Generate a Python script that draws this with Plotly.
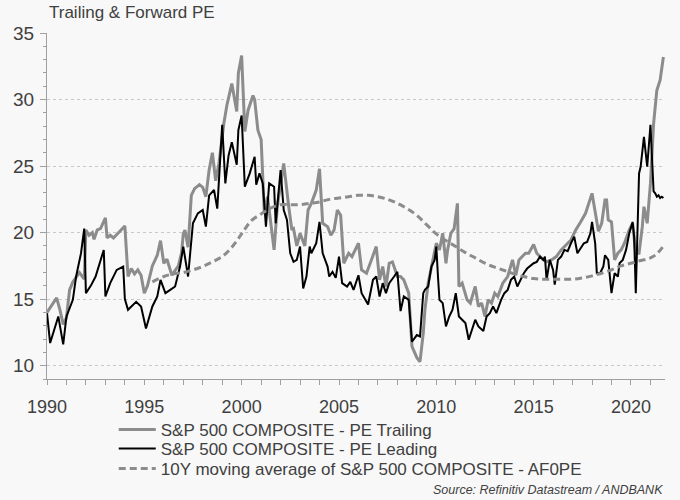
import plotly.graph_objects as go

# ---- data ----
trailing_dates = [
    "1990-01","1990-04","1990-07","1990-09","1990-11","1991-01","1991-03","1991-05","1991-07","1991-09","1991-12",
    "1992-01","1992-03","1992-05","1992-06","1992-08","1992-10","1992-12","1993-01","1993-02","1993-04","1993-06",
    "1993-09","1993-11","1994-01","1994-03","1994-05","1994-07","1994-09","1994-11","1995-01","1995-03","1995-06",
    "1995-09","1995-11","1996-01","1996-03","1996-06","1996-08","1996-10","1996-12","1997-01","1997-02","1997-04",
    "1997-06","1997-08","1997-11","1998-01","1998-03","1998-05","1998-07","1998-09","1998-11","1999-02","1999-04",
    "1999-07","1999-10","1999-11","2000-01","2000-03","2000-05","2000-08","2000-09","2000-11","2001-01","2001-03",
    "2001-05","2001-09","2001-11","2002-03","2002-06","2002-08","2002-09","2002-11","2003-01","2003-04","2003-06",
    "2003-08","2003-11","2004-01","2004-03","2004-06","2004-08","2004-10","2004-12","2005-02","2005-04","2005-07",
    "2005-09","2006-01","2006-03","2006-06","2006-09","2006-12","2007-02","2007-04","2007-06","2007-08","2007-10",
    "2008-01","2008-03","2008-05","2008-08","2008-10","2009-01","2009-03","2009-05","2009-06","2009-08","2009-11",
    "2010-01","2010-03","2010-05","2010-07","2010-08","2010-10","2010-12","2011-02","2011-03","2011-05","2011-08",
    "2011-10","2012-01","2012-03","2012-05","2012-07","2012-09","2012-11","2013-01","2013-03","2013-06","2013-09",
    "2013-12","2014-02","2014-04","2014-06","2014-08","2014-10","2015-01","2015-03","2015-05","2015-07","2015-09",
    "2015-12","2016-03","2016-06","2016-12","2017-03","2017-06","2017-09","2018-01","2018-03","2018-05","2018-07",
    "2018-09","2018-10","2018-11","2019-01","2019-03","2019-05","2019-07","2019-09","2019-12","2020-02","2020-04",
    "2020-06","2020-08","2020-09","2020-11","2021-01","2021-03","2021-05","2021-07","2021-09",
]
trailing_pe = [
    14.0,14.6,15.1,14.2,13.1,13.6,15.7,16.3,16.7,17.0,16.5,
    20.2,19.8,20.0,19.5,20.2,20.3,20.8,21.1,19.6,19.8,19.6,
    20.0,20.2,20.5,16.7,17.3,16.9,17.2,16.8,15.45,16.0,17.5,
    18.3,19.4,17.7,18.0,16.8,17.2,17.5,18.5,19.9,20.2,18.9,
    22.8,23.3,23.6,23.4,22.7,24.7,26.0,23.9,25.2,28.2,29.6,
    31.2,29.1,32.0,33.3,27.6,29.2,30.3,30.0,27.7,27.0,21.5,
    22.7,18.7,22.0,25.2,22.0,20.2,20.3,19.0,19.95,19.0,21.7,
    22.2,23.2,24.8,20.7,20.45,19.8,20.2,21.7,21.3,17.7,18.45,
    18.2,19.2,17.2,16.95,17.95,18.95,16.45,17.45,15.95,17.7,17.8,
    16.7,16.7,16.45,15.45,11.45,10.6,10.3,12.45,14.2,16.2,17.95,
    19.2,18.7,19.95,17.7,18.7,19.95,20.3,22.2,15.95,16.2,14.95,
    14.7,15.95,14.45,14.7,13.7,14.95,14.7,15.45,15.2,16.2,16.7,
    17.95,16.8,17.95,18.2,18.45,18.45,19.1,18.45,18.2,17.95,17.8,
    17.95,18.2,18.7,19.45,20.2,20.8,21.45,22.95,21.45,20.1,20.7,
    22.45,22.45,20.95,20.8,17.95,18.45,18.7,19.2,20.2,20.7,18.45,
    18.45,20.45,21.95,20.7,23.7,28.2,30.7,31.45,33.2,
]

leading_dates = [
    "1990-01","1990-03","1990-08","1990-11","1991-01","1991-05","1991-07","1991-10","1991-12","1992-01","1992-04",
    "1992-07","1992-12","1993-01","1993-04","1993-08","1993-12","1994-01","1994-03","1994-08","1994-11","1995-02",
    "1995-06","1995-09","1995-11","1996-02","1996-05","1996-08","1996-11","1997-01","1997-04","1997-07","1997-10",
    "1998-01","1998-03","1998-05","1998-08","1998-10","1998-12","1999-01","1999-03","1999-05","1999-07","1999-10",
    "1999-11","2000-01","2000-03","2000-06","2000-09","2000-10","2000-12","2001-02","2001-04","2001-06","2001-09",
    "2001-10","2002-01","2002-03","2002-05","2002-07","2002-09","2002-11","2003-01","2003-03","2003-05","2003-07",
    "2003-08","2003-11","2004-01","2004-03","2004-06","2004-07","2004-09","2004-11","2005-01","2005-03","2005-06",
    "2005-08","2005-10","2006-01","2006-03","2006-07","2006-10","2006-12","2007-02","2007-04","2007-06","2007-08",
    "2007-11","2008-01","2008-03","2008-05","2008-08","2008-10","2009-01","2009-03","2009-05","2009-06","2009-08",
    "2009-10","2009-12","2010-01","2010-02","2010-03","2010-05","2010-07","2010-09","2010-11","2011-01","2011-03",
    "2011-05","2011-07","2011-09","2011-11","2012-01","2012-03","2012-06","2012-08","2012-10","2012-12","2013-02",
    "2013-05","2013-07","2013-09","2013-11","2014-01","2014-03","2014-05","2014-07","2014-09","2015-01","2015-03",
    "2015-05","2015-07","2015-08","2015-09","2015-11","2016-01","2016-02","2016-04","2016-06","2016-08","2016-10",
    "2016-12","2017-02","2017-04","2017-06","2017-08","2017-10","2017-12","2018-01","2018-03","2018-04","2018-06",
    "2018-08","2018-09","2018-11","2018-12","2019-01","2019-03","2019-05","2019-06","2019-08","2019-10","2019-12",
    "2020-02","2020-03","2020-04","2020-06","2020-07","2020-09","2020-11","2020-12","2021-01","2021-03","2021-04",
    "2021-05","2021-06","2021-07","2021-08","2021-09",
]
leading_pe = [
    13.95,11.7,13.7,11.6,13.7,14.95,16.7,18.45,20.3,15.45,16.0,
    16.7,18.7,15.2,16.2,17.2,17.45,15.0,14.2,14.8,14.45,12.8,
    14.45,15.2,16.45,15.45,15.7,15.95,17.45,18.95,16.7,20.7,21.45,
    21.7,20.45,22.8,23.2,21.8,25.95,28.1,23.7,25.8,26.8,25.1,
    27.7,28.8,23.45,24.45,25.7,23.6,24.45,23.7,20.45,23.7,23.45,
    20.7,24.7,21.7,20.95,18.45,17.8,17.95,18.95,15.8,16.7,18.95,
    18.45,19.2,20.8,18.45,17.45,16.7,17.05,16.6,18.2,16.2,15.95,
    16.3,15.7,16.8,15.45,14.6,16.45,16.7,15.2,16.2,15.45,16.2,
    16.7,17.05,14.1,15.2,14.95,11.8,12.3,12.2,15.45,15.7,15.95,
    17.45,17.95,18.95,16.7,14.95,14.7,12.95,13.7,14.2,15.45,13.7,
    13.45,13.2,11.95,12.7,13.45,12.95,12.6,13.7,13.95,14.45,13.95,
    14.95,15.45,15.7,16.45,16.7,15.95,16.45,16.95,17.3,17.7,17.8,
    18.2,17.95,18.2,16.45,17.95,17.2,16.1,17.95,18.2,18.7,18.6,
    19.2,19.7,18.45,18.8,19.2,19.3,19.95,20.8,19.2,16.95,16.95,
    17.45,18.3,17.95,16.95,15.45,16.95,16.7,17.7,17.95,18.7,19.95,
    20.8,19.7,15.45,24.45,24.95,27.2,24.95,26.95,28.1,23.1,22.95,
    22.7,22.8,22.6,22.7,22.6,
]

ma_dates = [
    "1995-06","1996-01","1996-07","1997-01","1997-07","1998-01","1998-07","1999-01","1999-07","2000-01","2000-07",
    "2001-01","2001-07","2002-01","2002-07","2003-01","2003-07","2004-01","2004-07","2005-01","2005-07","2006-01",
    "2006-07","2007-01","2007-07","2008-01","2008-07","2009-01","2009-07","2010-01","2010-07","2011-01","2011-07",
    "2012-01","2012-07","2013-01","2013-07","2014-01","2014-07","2015-01","2015-07","2016-01","2016-07","2017-01",
    "2017-07","2018-01","2018-07","2019-01","2019-07","2020-01","2020-07","2021-01","2021-05","2021-09",
]
ma_pe = [
    16.3,16.7,16.9,17.0,17.2,17.45,17.8,18.2,18.9,19.9,20.9,
    21.4,21.85,22.1,22.1,22.1,22.2,22.3,22.5,22.6,22.7,22.8,
    22.8,22.7,22.5,22.2,21.8,21.3,20.6,19.9,19.4,18.95,18.5,
    18.1,17.7,17.4,17.15,16.9,16.7,16.55,16.5,16.5,16.5,16.5,
    16.6,16.75,16.95,17.2,17.5,17.7,17.9,18.1,18.4,19.0,
]

series_names = [
    "S&P 500 COMPOSITE - PE Trailing",
    "S&P 500 COMPOSITE - PE Leading",
    "10Y moving average of S&P 500 COMPOSITE - AF0PE",
]
y_ticks = [10, 15, 20, 25, 30, 35]

BG = "#f8f8f8"
GREY = "#8c8c8c"
TXT = "#404040"
FONT = "Liberation Sans, Arial, sans-serif"

fig = go.Figure()
fig.add_trace(go.Scatter(x=trailing_dates, y=trailing_pe, mode="lines", name=series_names[0],
                         legend="legend", line=dict(color=GREY, width=3)))
fig.add_trace(go.Scatter(x=leading_dates, y=leading_pe, mode="lines", name=series_names[1],
                         legend="legend2", line=dict(color="#000000", width=2)))
fig.add_trace(go.Scatter(x=ma_dates, y=ma_pe, mode="lines", name=series_names[2], line_shape="spline",
                         legend="legend3", line=dict(color=GREY, width=3, dash="7px,4px")))

leg_common = dict(x=0.108, xanchor="left", yanchor="middle", bgcolor="rgba(0,0,0,0)",
                  font=dict(size=17, color=TXT), itemwidth=37)

fig.update_layout(
    width=680, height=500,
    paper_bgcolor=BG, plot_bgcolor=BG,
    margin=dict(l=47, r=15, t=33, b=121),
    font=dict(family=FONT, color=TXT),
    showlegend=True,
    legend=dict(y=-0.147, **leg_common),
    legend2=dict(y=-0.202, **leg_common),
    legend3=dict(y=-0.260, **leg_common),
    annotations=[
        dict(text="Trailing & Forward PE", xref="paper", yref="paper", x=0, y=1.0, xanchor="left",
             yanchor="bottom", yshift=9, showarrow=False, font=dict(size=17, color=TXT)),
        dict(text="<i>Source: Refinitiv Datastream / ANDBANK</i>", xref="paper", yref="paper", x=1.0,
             y=-0.321, xanchor="right", yanchor="middle", showarrow=False, font=dict(size=12.5, color=TXT)),
    ],
)
fig.update_xaxes(
    type="date", range=["1990-01-01", "2021-10-01"], tick0="1990-01-01", dtick="M60", tickformat="%Y",
    showline=True, linecolor="#a0a0a0", linewidth=1, ticks="outside", ticklen=5, tickcolor="#a0a0a0",
    tickfont=dict(size=18, color=TXT), ticklabelstandoff=6, showgrid=False, zeroline=False,
    minor=dict(dtick="M12", ticks="outside", ticklen=5, tickcolor="#a0a0a0", showgrid=False),
)
fig.update_yaxes(
    range=[9, 35], tickvals=y_ticks, showline=True, linecolor="#a0a0a0", linewidth=1,
    ticks="outside", ticklen=6, tickcolor="#a0a0a0", tickfont=dict(size=19, color=TXT), ticklabelstandoff=2,
    showgrid=True, gridcolor="#c8c8c8", griddash="dot", gridwidth=1, zeroline=False,
    minor=dict(dtick=1, tick0=0, ticks="outside", ticklen=3, tickcolor="#a0a0a0", showgrid=False),
)

fig.write_html("out.html", config={"displayModeBar": False},
               post_script="document.body.style.margin='0';document.body.style.background='#f8f8f8';")
